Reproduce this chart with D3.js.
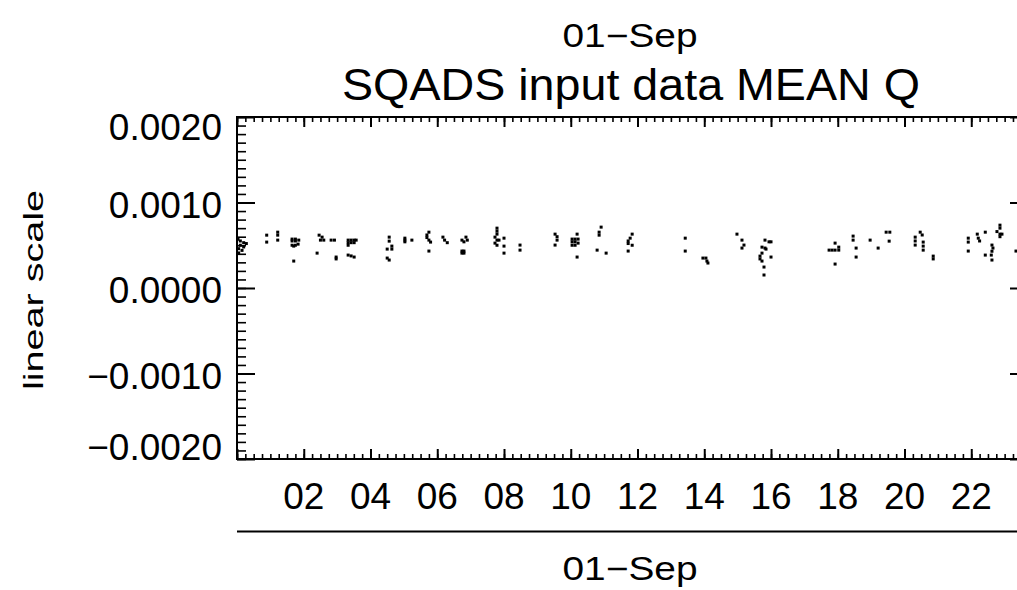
<!DOCTYPE html>
<html>
<head>
<meta charset="utf-8">
<script src="https://cdn.jsdelivr.net/npm/d3@7"></script>
<style>
  html, body { margin: 0; padding: 0; background: #fff; }
  svg { display: block; font-family: "Liberation Sans", Arial, sans-serif; }
</style>
</head>
<body>
<svg id="chart" width="1017" height="590"></svg>
<script>
// Hour of day (UT) of each MEAN Q sample
const obsHour = [
  0.03, 0.10, 0.20, 0.28, 0.10, 0.20, 0.05, 0.15, 0.05,
  0.89, 0.89, 1.22, 1.22, 1.22,
  1.65, 1.75, 1.85, 1.65, 1.75, 1.65, 1.75, 1.83, 1.70, 1.70,
  2.46, 2.55, 2.50, 2.60, 2.40, 2.82, 2.92, 2.97, 2.97,
  3.33, 3.42, 3.51, 3.57, 3.33, 3.42, 3.51, 3.33, 3.33, 3.42, 3.51,
  4.56, 4.56, 4.64, 4.64, 4.50, 4.50, 4.56,
  5.03, 5.03, 5.03, 5.24,
  5.75, 5.69, 5.69, 5.75, 5.80, 5.75,
  6.17, 6.22, 6.30,
  6.86, 6.74, 6.80, 6.90, 6.74, 6.80, 6.74, 6.80,
  7.79, 7.79, 7.79, 7.73, 7.79, 7.85, 7.73, 7.79,
  8.00, 8.00, 8.00, 8.48, 8.48,
  9.53, 9.59, 9.59, 9.53,
  10.19, 10.04, 10.13, 10.22, 10.04, 10.13, 10.04, 10.13, 10.22, 10.19,
  10.91, 10.85, 10.85, 10.79, 11.06,
  11.84, 11.78, 11.72, 11.72, 11.84, 11.72,
  13.43, 13.43,
  13.96, 14.05, 14.08, 14.11,
  14.98, 15.13, 15.19, 15.13,
  15.82, 15.94, 16.00, 15.73, 15.82, 15.85, 15.73, 15.67, 15.67, 15.73, 16.00, 15.79, 15.79,
  17.74, 17.83, 17.92, 18.03, 18.03, 17.92, 17.92,
  18.46, 18.46, 18.55, 18.55, 18.97, 19.21,
  19.45, 19.56, 19.54,
  20.32, 20.32, 20.32, 20.47, 20.53, 20.56, 20.56, 20.56, 20.86, 20.86,
  21.91, 21.91, 21.91,
  22.18, 22.21, 22.25, 22.42, 22.42,
  22.62, 22.65, 22.62, 22.60, 22.62,
  22.86, 22.86, 22.77, 22.86, 22.92, 22.86,
  23.34
];

// MEAN Q value of each sample
const meanQ = [
  5.7e-4, 5.5e-4, 5.3e-4, 5.2e-4, 5.0e-4, 4.8e-4, 4.6e-4, 4.4e-4, 4.1e-4,
  6.18e-4, 5.37e-4, 6.53e-4, 6.18e-4, 5.6e-4,
  5.72e-4, 5.72e-4, 5.6e-4, 5.5e-4, 5.5e-4, 5.0e-4, 5.0e-4, 5.13e-4, 4.9e-4, 3.15e-4,
  6.18e-4, 5.95e-4, 5.6e-4, 5.6e-4, 4.08e-4, 5.6e-4, 5.6e-4, 3.62e-4, 3.4e-4,
  5.6e-4, 5.6e-4, 5.6e-4, 5.6e-4, 5.3e-4, 5.3e-4, 5.3e-4, 5.0e-4, 3.85e-4, 3.75e-4, 3.62e-4,
  5.95e-4, 5.48e-4, 4.9e-4, 4.55e-4, 4.55e-4, 3.5e-4, 3.27e-4,
  5.83e-4, 5.6e-4, 5.4e-4, 5.6e-4,
  6.53e-4, 6.2e-4, 5.9e-4, 5.6e-4, 5.37e-4, 4.32e-4,
  5.95e-4, 5.6e-4, 5.3e-4,
  5.95e-4, 5.6e-4, 5.4e-4, 5.6e-4, 4.32e-4, 4.32e-4, 4.08e-4, 4.08e-4,
  7.0e-4, 6.65e-4, 6.3e-4, 5.95e-4, 5.6e-4, 5.6e-4, 5.25e-4, 5.0e-4,
  5.83e-4, 4.9e-4, 4.08e-4, 5.02e-4, 4.43e-4,
  6.3e-4, 6.0e-4, 5.6e-4, 5.02e-4,
  6.3e-4, 5.72e-4, 5.72e-4, 5.72e-4, 5.4e-4, 5.4e-4, 5.0e-4, 5.0e-4, 5.25e-4, 3.62e-4,
  7.12e-4, 6.53e-4, 6.18e-4, 4.43e-4, 4.08e-4,
  6.3e-4, 5.83e-4, 5.5e-4, 5.2e-4, 5.0e-4, 4.32e-4,
  5.83e-4, 4.32e-4,
  3.5e-4, 3.5e-4, 3.15e-4, 2.92e-4,
  6.3e-4, 5.6e-4, 5.02e-4, 4.67e-4,
  5.6e-4, 5.4e-4, 5.4e-4, 4.78e-4, 4.67e-4, 4.55e-4, 4.08e-4, 3.73e-4, 3.4e-4, 3.15e-4, 3.62e-4, 2.45e-4, 1.52e-4,
  4.43e-4, 4.43e-4, 4.43e-4, 4.43e-4, 4.78e-4, 5.25e-4, 2.8e-4,
  6.07e-4, 5.6e-4, 4.67e-4, 3.62e-4, 5.6e-4, 4.67e-4,
  6.53e-4, 6.53e-4, 5.48e-4,
  5.95e-4, 5.5e-4, 5.02e-4, 6.53e-4, 6.2e-4, 5.37e-4, 4.9e-4, 4.43e-4, 3.73e-4, 3.4e-4,
  5.83e-4, 5.37e-4, 4.32e-4,
  6.3e-4, 5.83e-4, 5.5e-4, 6.53e-4, 3.85e-4,
  5.02e-4, 4.67e-4, 4.3e-4, 3.85e-4, 3.27e-4,
  7.35e-4, 7.0e-4, 6.6e-4, 6.3e-4, 6.3e-4, 6.0e-4,
  4.32e-4
];

// Axis ticks and labels
const hourTicks  = [0, 2, 4, 6, 8, 10, 12, 14, 16, 18, 20, 22];
const hourLabels = ["", "02", "04", "06", "08", "10", "12", "14", "16", "18", "20", "22"];
const valueTicks  = [0.002, 0.001, 0, -0.001, -0.002];
const valueLabels = ["0.0020", "0.0010", "0.0000", "\u22120.0010", "\u22120.0020"];
const dateLabel = "01\u2212Sep";
const titleText = "SQADS input data MEAN Q";
const yTitle = "linear scale";

const svg = d3.select("#chart");
const plotLeft = 237, plotRight = 1028, plotTop = 117, plotBottom = 459;

const x = d3.scaleLinear().domain([0, 23.7]).range([plotLeft, plotRight]);
const y = d3.scaleLinear().domain([-0.002, 0.002]).range([plotBottom, plotTop]);

const hourMinor = d3.range(0, 23.7, 0.25);
const valueMinor = d3.range(-20, 21).map(k => k / 10000);

function styleAxis(g, w) {
  g.select(".domain").remove();
  g.selectAll(".tick line").attr("stroke", "#000").attr("stroke-width", w);
  g.selectAll(".tick text").remove();
}

// Bottom and top axes (ticks point into the plot)
svg.append("g").attr("transform", `translate(0,${plotBottom})`)
  .call(d3.axisTop(x).tickValues(hourMinor).tickSize(5).tickFormat(""))
  .call(g => styleAxis(g, 1.6));
svg.append("g").attr("transform", `translate(0,${plotBottom})`)
  .call(d3.axisTop(x).tickValues(hourTicks).tickSize(10).tickFormat(""))
  .call(g => styleAxis(g, 2));
svg.append("g").attr("transform", `translate(0,${plotTop})`)
  .call(d3.axisBottom(x).tickValues(hourMinor).tickSize(5).tickFormat(""))
  .call(g => styleAxis(g, 1.6));
svg.append("g").attr("transform", `translate(0,${plotTop})`)
  .call(d3.axisBottom(x).tickValues(hourTicks).tickSize(10).tickFormat(""))
  .call(g => styleAxis(g, 2));

// Left and right axes
svg.append("g").attr("transform", `translate(${plotLeft},0)`)
  .call(d3.axisRight(y).tickValues(valueMinor).tickSize(9).tickFormat(""))
  .call(g => styleAxis(g, 1.6));
svg.append("g").attr("transform", `translate(${plotLeft},0)`)
  .call(d3.axisRight(y).tickValues(valueTicks).tickSize(18).tickFormat(""))
  .call(g => styleAxis(g, 2));
svg.append("g").attr("transform", `translate(${plotRight},0)`)
  .call(d3.axisLeft(y).tickValues(valueMinor).tickSize(9).tickFormat(""))
  .call(g => styleAxis(g, 1.6));
svg.append("g").attr("transform", `translate(${plotRight},0)`)
  .call(d3.axisLeft(y).tickValues(valueTicks).tickSize(18).tickFormat(""))
  .call(g => styleAxis(g, 2));

// Plot frame
svg.append("rect")
  .attr("x", plotLeft).attr("y", plotTop)
  .attr("width", plotRight - plotLeft).attr("height", plotBottom - plotTop)
  .attr("fill", "none").attr("stroke", "#000").attr("stroke-width", 2);

// Y tick labels (end labels kept inside the frame's height)
svg.append("g").selectAll("text")
  .data(valueTicks)
  .join("text")
  .attr("x", 222)
  .attr("y", (d, i) => i === 0 ? y(d) + 23 : (i === valueTicks.length - 1 ? y(d) + 1 : y(d) + 15))
  .attr("text-anchor", "end")
  .attr("font-size", 37)
  .attr("fill", "#000")
  .text((d, i) => valueLabels[i]);

// X tick labels
svg.append("g").selectAll("text")
  .data(hourTicks)
  .join("text")
  .attr("x", d => x(d))
  .attr("y", plotBottom + 50)
  .attr("text-anchor", "middle")
  .attr("font-size", 37)
  .attr("fill", "#000")
  .text((d, i) => hourLabels[i]);

// Date axis rule under the hour labels
svg.append("line")
  .attr("x1", plotLeft).attr("x2", 1017)
  .attr("y1", 531.5).attr("y2", 531.5)
  .attr("stroke", "#000").attr("stroke-width", 2);

// Date labels and title
svg.append("text")
  .attr("x", 630).attr("y", 580)
  .attr("text-anchor", "middle").attr("font-size", 33)
  .attr("textLength", 135).attr("lengthAdjust", "spacingAndGlyphs")
  .text(dateLabel);
svg.append("text")
  .attr("x", 630).attr("y", 47)
  .attr("text-anchor", "middle").attr("font-size", 33)
  .attr("textLength", 135).attr("lengthAdjust", "spacingAndGlyphs")
  .text(dateLabel);
svg.append("text")
  .attr("x", 631).attr("y", 100)
  .attr("text-anchor", "middle").attr("font-size", 44)
  .attr("textLength", 578).attr("lengthAdjust", "spacingAndGlyphs")
  .text(titleText);

// Y axis title
svg.append("text")
  .attr("transform", "translate(43,290) rotate(-90)")
  .attr("text-anchor", "middle").attr("font-size", 27)
  .attr("textLength", 200).attr("lengthAdjust", "spacingAndGlyphs")
  .text(yTitle);

// Samples as small dots
svg.append("g").selectAll("rect")
  .data(d3.range(obsHour.length))
  .join("rect")
  .attr("x", i => x(obsHour[i]) - 1.5)
  .attr("y", i => y(meanQ[i]) - 1.5)
  .attr("width", 3).attr("height", 3)
  .attr("fill", "#000");
</script>
</body>
</html>
